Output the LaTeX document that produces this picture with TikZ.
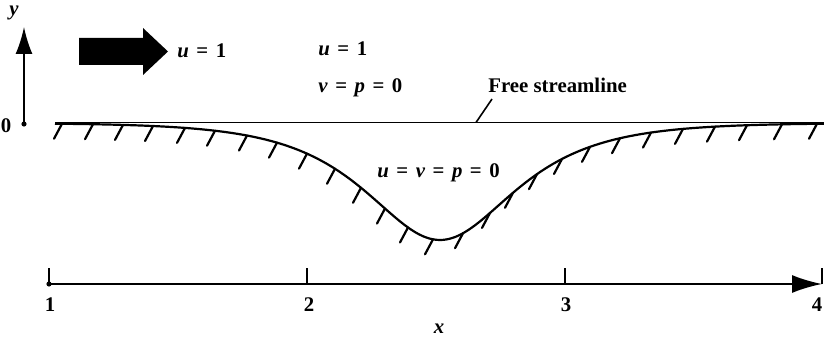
\documentclass[tikz,border=0pt]{standalone}
\usepackage{fontspec}
\setmainfont{Liberation Serif}
\usetikzlibrary{arrows.meta}
\newcommand{\mv}[1]{\textbf{\textit{#1}}}
\newcommand{\eqsp}{\hspace{0.36em}=\hspace{0.36em}}
\begin{document}
\begin{tikzpicture}[x=0.5pt,y=-0.5pt,
  declare function={wy(\t)=123+234/(exp((\t-440)/66)+exp((440-\t)/66));},
  lbl/.style={font=\bfseries\fontsize{10.4}{12}\selectfont, inner sep=0pt},
  axisline/.style={line width=0.9pt},
  wall/.style={line width=1.1pt},
  hatch/.style={line width=1.1pt, line cap=round},
  leader/.style={line width=0.8pt}]
\useasboundingbox (0,0) rectangle (824,347);

% thick flow arrow
\fill (79,38) -- (143,38) -- (143,28) -- (168,51.5) -- (143,75) -- (143,65) -- (79,65) -- cycle;
\node[lbl, anchor=west] (uarrow) at (177,51) {\mv{u}\eqsp1};

% y axis
\coordinate (O) at (24,124);
\coordinate (ytip) at (24,27);
\draw[axisline, -{Latex[length=13.5pt,width=8.5pt]}] (O) -- (ytip);
\fill (O) circle (1.3pt);
\node[lbl] (ylab) at (14,13) {\mv{y}};
\node[lbl] (zero) at (6,126) {0};

% free-stream conditions
\node[lbl, anchor=west] (u1) at (318,49) {\mv{u}\eqsp1};
\node[lbl, anchor=west] (vp0) at (318,88) {\mv{v}\eqsp\mv{p}\eqsp0};
\node[lbl, anchor=west] (fs) at (488,85) {Free streamline};
\node[lbl, anchor=west] (uvp0) at (377,173) {\mv{u}\eqsp\mv{v}\eqsp\mv{p}\eqsp0};

% free streamline
\coordinate (sl) at (55,122.5);
\coordinate (sr) at (824,122.5);
\draw[axisline] (sl) -- (sr);
\coordinate (lt) at (492,99);
\coordinate (lp) at (476,122.5);
\draw[leader] (lt) -- (lp);

% wall with hatching
\draw[wall] plot[domain=55:824, samples=120, smooth] (\x, {wy(\x)});
\foreach \h in {62,93,123,153,185,215,247,277,307,335,361,385,408,433,463,490,513,537,562,590,620,651,683,715,747,782,817}
  \draw[hatch] (\h, {wy(\h)}) -- ++(-8,15);

% x axis
\coordinate (x1) at (49,284);
\coordinate (x2) at (307,284);
\coordinate (x3) at (565,284);
\coordinate (x4) at (822,284);
\draw[axisline, -{Latex[length=15pt,width=9pt]}] (x1) -- (x4);
\fill (x1) circle (1.3pt);
\foreach \p in {x1,x2,x3,x4} \draw[axisline] (\p) -- ++(0,-16);
\node[lbl] (l1) at (50,305) {1};
\node[lbl] (l2) at (309,305) {2};
\node[lbl] (l3) at (566,305) {3};
\node[lbl] (l4) at (817,305) {4};
\node[lbl] (xlab) at (439,329) {\mv{x}};
\end{tikzpicture}
\end{document}
